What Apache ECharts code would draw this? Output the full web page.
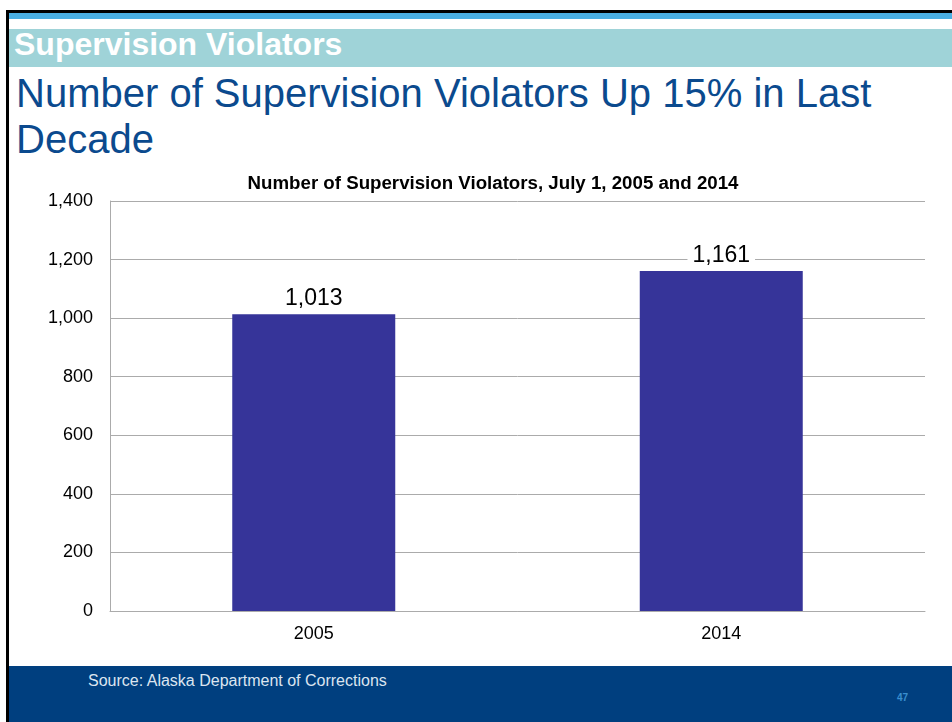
<!DOCTYPE html>
<html><head><meta charset="utf-8">
<script src="https://cdn.jsdelivr.net/npm/echarts@6/dist/echarts.min.js"></script>
<style>
html,body{margin:0;padding:0;width:952px;height:722px;overflow:hidden;background:#fff;font-family:"Liberation Sans",Arial,sans-serif;}
.abs{position:absolute;white-space:nowrap;}
#chart{position:absolute;left:0;top:0;width:952px;height:722px;}
</style></head><body>
<div class="abs" style="left:6px;top:10px;width:946px;height:3px;background:#000"></div>
<div class="abs" style="left:6px;top:10px;width:3px;height:712px;background:#000"></div>
<div class="abs" style="left:9px;top:13px;width:943px;height:6px;background:#4AAFE3"></div>
<div class="abs" style="left:9px;top:29px;width:943px;height:38px;background:#9FD3D8"></div>
<div class="abs" style="left:14px;top:25px;font-size:32px;font-weight:bold;color:#fff;line-height:38px;">Supervision Violators</div>
<div class="abs" style="left:16px;top:70px;font-size:40px;color:#0B4A8E;line-height:46px;">Number of Supervision Violators Up 15% in Last<br>Decade</div>
<div class="abs" style="left:9px;top:666px;width:943px;height:56px;background:#003F7F"></div>
<div class="abs" style="left:88px;top:672px;font-size:16px;color:#DCE5F0;">Source: Alaska Department of Corrections</div>
<div class="abs" style="left:897px;top:692px;font-size:10px;font-weight:bold;color:#3A8FD0;">47</div>
<div id="chart"></div>
<script>
var categories = ['2005', '2014'];
var values = [1013, 1161];
var yTicks = [0, 200, 400, 600, 800, 1000, 1200, 1400];
var chartTitle = 'Number of Supervision Violators, July 1, 2005 and 2014';

var chart = echarts.init(document.getElementById('chart'), null, {renderer: 'canvas'});
chart.setOption({
  backgroundColor: 'transparent',
  animation: false,
  title: {
    text: chartTitle,
    left: 488, top: 169, textAlign: 'center',
    textStyle: {fontSize: 18.7, fontWeight: 'bold', color: '#000', fontFamily: 'Liberation Sans, Arial'}
  },
  grid: {left: 110, right: 27, top: 201, bottom: 111, containLabel: false},
  xAxis: {
    type: 'category', data: categories,
    axisLine: {show: true, lineStyle: {color: '#ABABAB', width: 1}},
    axisTick: {show: false},
    axisLabel: {fontSize: 18, color: '#000', margin: 14, fontFamily: 'Liberation Sans, Arial'}
  },
  yAxis: {
    type: 'value', min: yTicks[0], max: yTicks[yTicks.length - 1], interval: 200,
    axisLine: {show: true, lineStyle: {color: '#ABABAB', width: 1}},
    axisTick: {show: false},
    splitLine: {show: true, lineStyle: {color: '#ABABAB', width: 1}},
    axisLabel: {fontSize: 18, color: '#000', margin: 17, fontFamily: 'Liberation Sans, Arial',
      formatter: function (v) { return v.toLocaleString('en-US'); }}
  },
  series: [{
    type: 'bar', data: values, barWidth: '40%',
    itemStyle: {color: '#363499'},
    label: {
      show: true, position: 'top', distance: 3,
      fontSize: 23, color: '#000', fontFamily: 'Liberation Sans, Arial',
      backgroundColor: '#fff', padding: [1, 5, 1, 5],
      formatter: function (p) { return p.value.toLocaleString('en-US'); }
    }
  }]
});
</script>
</body></html>
